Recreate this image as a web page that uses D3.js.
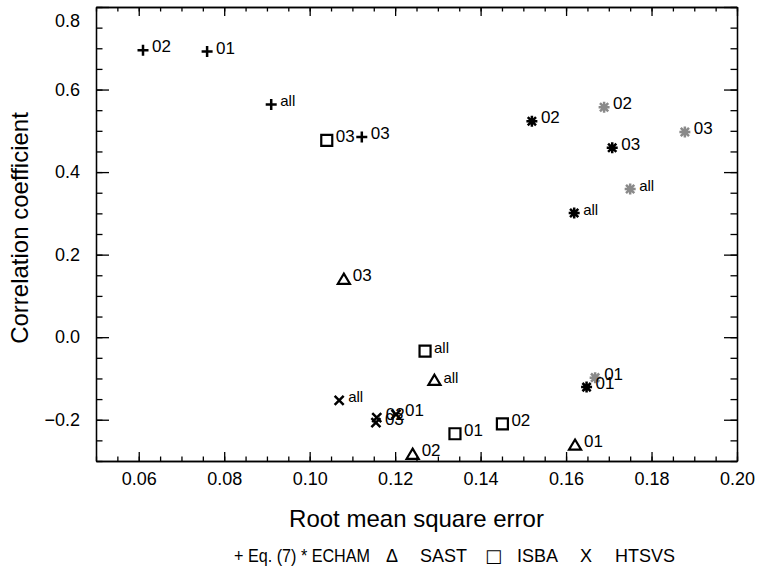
<!DOCTYPE html>
<html>
<head>
<meta charset="utf-8">
<script src="https://cdn.jsdelivr.net/npm/d3@7"></script>
<style>
  body { margin: 0; background: #fff; }
  svg { display: block; font-family: "Liberation Sans", Arial, Helvetica, sans-serif; }
  .axis text { font-size: 18px; fill: #000; }
  .axis path, .axis line { stroke: #000; stroke-width: 1.3; }
  .pt-label { font-size: 17px; }
</style>
</head>
<body>
<div id="chart"></div>
<script>
// tick labels
const xMajorTicks = [0.06, 0.08, 0.10, 0.12, 0.14, 0.16, 0.18, 0.20];
const yMajorTicks = [-0.2, 0.0, 0.2, 0.4, 0.6, 0.8];

// point labels, same order in every series
const periods = ['01', '02', '03', 'all'];

// Eq. (7)
const eq7Rmse = [0.0760, 0.0610, 0.1122, 0.0910];
const eq7Corr = [0.692, 0.695, 0.485, 0.564];

// ECHAM (black and grey asterisks)
const echamRmse = [0.1648, 0.1520, 0.1708, 0.1619];
const echamCorr = [-0.121, 0.523, 0.459, 0.301];
const echamGreyRmse = [0.1668, 0.1689, 0.1878, 0.1750];
const echamGreyCorr = [-0.098, 0.557, 0.497, 0.359];

// SAST
const sastRmse = [0.1621, 0.1241, 0.1080, 0.1292];
const sastCorr = [-0.262, -0.284, 0.140, -0.105];

// ISBA
const isbaRmse = [0.1340, 0.1451, 0.1040, 0.1270];
const isbaCorr = [-0.234, -0.210, 0.477, -0.034];

// HTSVS
const htsvsRmse = [0.1202, 0.1157, 0.1155, 0.1069];
const htsvsCorr = [-0.187, -0.195, -0.207, -0.153];

const legendItems = ['+ Eq. (7) * ECHAM', '\u0394', 'SAST', '\u25A1', 'ISBA', 'X', 'HTSVS'];

// symbol shapes, size is used as half width
const plusSym = { draw(ctx, r) { ctx.moveTo(-r, 0); ctx.lineTo(r, 0); ctx.moveTo(0, -r); ctx.lineTo(0, r); } };
const crossSym = { draw(ctx, r) { const k = r * 0.82; ctx.moveTo(-k, -k); ctx.lineTo(k, k); ctx.moveTo(-k, k); ctx.lineTo(k, -k); } };
const starSym = { draw(ctx, r) {
    ctx.moveTo(-r, 0); ctx.lineTo(r, 0); ctx.moveTo(0, -r); ctx.lineTo(0, r);
    const k = r * 0.75;
    ctx.moveTo(-k, -k); ctx.lineTo(k, k); ctx.moveTo(-k, k); ctx.lineTo(k, -k);
} };
const squareSym = { draw(ctx, r) { ctx.rect(-r, -r, 2 * r, 2 * r); } };
const triSym = { draw(ctx, r) { ctx.moveTo(0, -r * 1.05); ctx.lineTo(r * 1.1, r * 0.8); ctx.lineTo(-r * 1.1, r * 0.8); ctx.closePath(); } };

const series = [
    { rmse: eq7Rmse, corr: eq7Corr, type: plusSym, r: 5.5, sw: 2.5, color: '#000' },
    { rmse: echamGreyRmse, corr: echamGreyCorr, type: starSym, r: 5.5, sw: 2.5, color: '#8a8a8a' },
    { rmse: echamRmse, corr: echamCorr, type: starSym, r: 5.5, sw: 2.5, color: '#000' },
    { rmse: sastRmse, corr: sastCorr, type: triSym, r: 5.5, sw: 2.2, color: '#000' },
    { rmse: isbaRmse, corr: isbaCorr, type: squareSym, r: 5.5, sw: 2.2, color: '#000' },
    { rmse: htsvsRmse, corr: htsvsCorr, type: crossSym, r: 5.5, sw: 2.5, color: '#000' }
];

const W = 760, H = 570;
const margin = { top: 7, right: 23, bottom: 109, left: 96 };
const iw = W - margin.left - margin.right;
const ih = H - margin.top - margin.bottom;

const svg = d3.select('#chart').append('svg')
    .attr('width', W)
    .attr('height', H);

const g = svg.append('g').attr('transform', `translate(${margin.left},${margin.top})`);

const x = d3.scaleLinear().domain([0.05, 0.20]).range([0, iw]);
const y = d3.scaleLinear().domain([-0.3, 0.8]).range([ih, 0]);

const xMinor = d3.range(0.05, 0.2001, 0.005);
const yMinor = d3.range(-0.3, 0.8001, 0.05);

// minor ticks first, all pointing inward
g.append('g').attr('class', 'axis')
    .attr('transform', `translate(0,${ih})`)
    .call(d3.axisBottom(x).tickValues(xMinor).tickSizeInner(-4.5).tickSizeOuter(0).tickFormat(''));
g.append('g').attr('class', 'axis')
    .call(d3.axisTop(x).tickValues(xMinor).tickSizeInner(-4.5).tickSizeOuter(0).tickFormat(''));
g.append('g').attr('class', 'axis')
    .call(d3.axisLeft(y).tickValues(yMinor).tickSizeInner(-6.5).tickSizeOuter(0).tickFormat(''));
g.append('g').attr('class', 'axis')
    .attr('transform', `translate(${iw},0)`)
    .call(d3.axisRight(y).tickValues(yMinor).tickSizeInner(-6.5).tickSizeOuter(0).tickFormat(''));

// major ticks
g.append('g').attr('class', 'axis')
    .attr('transform', `translate(0,${ih})`)
    .call(d3.axisBottom(x).tickValues(xMajorTicks).tickSizeInner(-9).tickSizeOuter(0)
        .tickPadding(11).tickFormat(d3.format('.2f')));
g.append('g').attr('class', 'axis')
    .call(d3.axisTop(x).tickValues(xMajorTicks).tickSizeInner(-9).tickSizeOuter(0).tickFormat(''));
const yAxisG = g.append('g').attr('class', 'axis')
    .call(d3.axisLeft(y).tickValues(yMajorTicks).tickSizeInner(-13).tickSizeOuter(0)
        .tickPadding(16).tickFormat(d3.format('.1f')));
g.append('g').attr('class', 'axis')
    .attr('transform', `translate(${iw},0)`)
    .call(d3.axisRight(y).tickValues(yMajorTicks).tickSizeInner(-13).tickSizeOuter(0).tickFormat(''));

// top label sits a bit lower, as in the original
yAxisG.selectAll('.tick text').filter(d => d === 0.8).attr('dy', '1.1em');

// points
series.forEach(s => {
    const pts = periods.map((p, i) => ({ label: p, rmse: s.rmse[i], corr: s.corr[i] }));
    const sg = g.append('g');
    sg.selectAll('path')
        .data(pts)
        .enter().append('path')
        .attr('transform', d => `translate(${x(d.rmse)},${y(d.corr)})`)
        .attr('d', d3.symbol().type(s.type).size(s.r))
        .attr('fill', 'none')
        .attr('stroke', s.color)
        .attr('stroke-width', s.sw);
    sg.selectAll('text')
        .data(pts)
        .enter().append('text')
        .attr('class', 'pt-label')
        .attr('x', d => x(d.rmse) + 9)
        .attr('y', d => y(d.corr) + 2)
        .style('font-size', d => d.label === 'all' ? '15px' : null)
        .attr('fill', '#000')
        .text(d => d.label);
});

// axis titles
svg.append('text')
    .attr('x', margin.left + iw / 2)
    .attr('y', 527)
    .attr('text-anchor', 'middle')
    .style('font-size', '24px')
    .text('Root mean square error');

svg.append('text')
    .attr('transform', `translate(28,228) rotate(-90)`)
    .attr('text-anchor', 'middle')
    .style('font-size', '24px')
    .text('Correlation coefficient');

// legend line under the axis title
const legendX = [234, 386, 420, 485, 517, 580, 615];
const legend = svg.append('g').style('font-size', '18px');
legend.selectAll('text')
    .data(legendItems)
    .enter().append('text')
    .attr('x', (d, i) => legendX[i])
    .attr('y', 562)
    .attr('textLength', (d, i) => i === 0 ? 136 : null)
    .attr('lengthAdjust', 'spacingAndGlyphs')
    .style('font-family', d => d === '\u25A1' ? '"DejaVu Sans", sans-serif' : null)
    .text(d => d);
</script>
</body>
</html>
